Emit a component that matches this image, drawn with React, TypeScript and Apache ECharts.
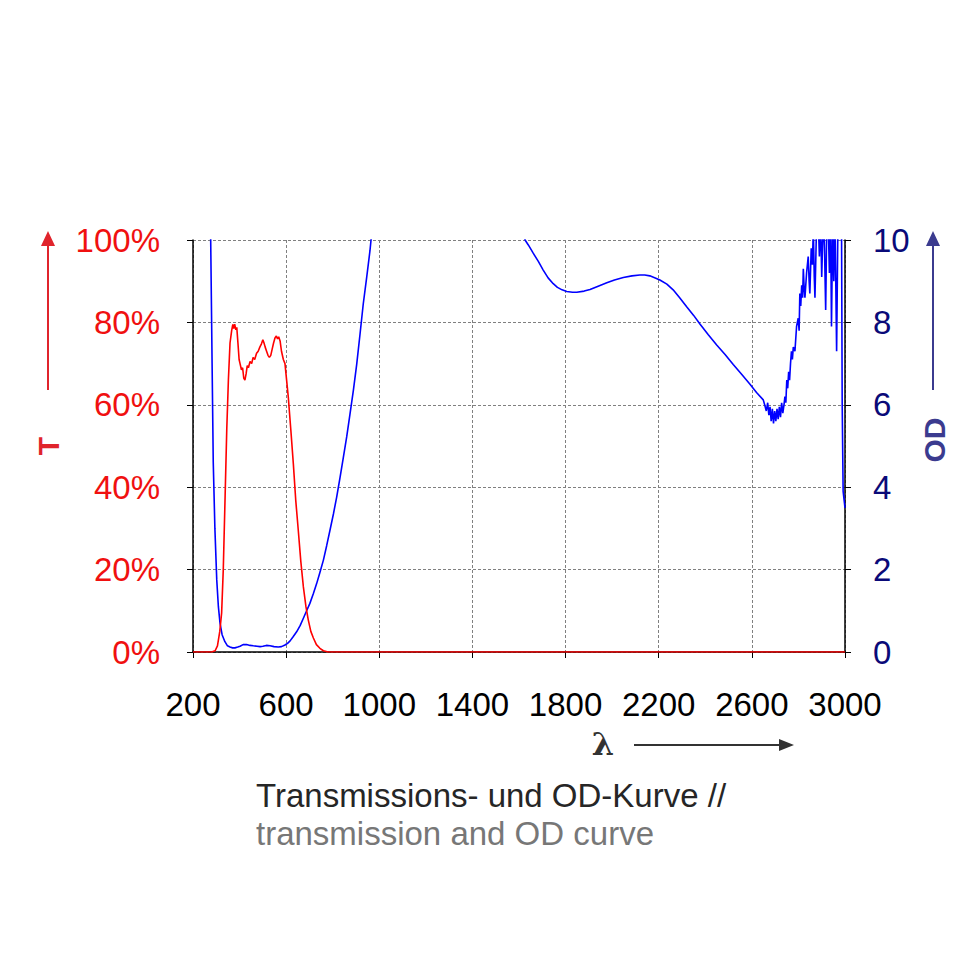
import React, { useEffect, useRef } from "react";
import * as echarts from "echarts";

// wavelength (nm) / transmission (%)
const transmission: [number, number][] = [
  [200, 0], [280, 0], [295, 0.3], [305, 1.5], [315, 5], [323, 9.5], [330, 20], [338, 38], [345, 54],
  [352, 66], [359, 75], [366, 78], [371, 79.5], [375, 78.5], [379, 79.6], [384, 78.2], [388, 78.8],
  [393, 75], [398, 71], [402, 70], [408, 68.5], [413, 69], [418, 66.5], [423, 66], [428, 67.5],
  [433, 69.5], [438, 69], [445, 70.5], [452, 70], [458, 71.5], [465, 71], [473, 72.5], [480, 73],
  [487, 74], [494, 74.8], [500, 75.8], [505, 75], [510, 74], [516, 73], [522, 72], [528, 71.5],
  [534, 72], [540, 73.5], [546, 75], [552, 76.2], [558, 76.7], [563, 76], [568, 76.5], [574, 75.5],
  [580, 73], [588, 71], [595, 70], [602, 66], [609, 62], [620, 54], [631, 45.6], [641, 37],
  [652, 29.6], [663, 22], [674, 15.8], [685, 11], [695, 7.8], [706, 5], [717, 3.4], [730, 1.8],
  [745, 0.9], [760, 0.3], [780, 0], [3000, 0],
];

// wavelength (nm) / optical density
const opticalDensity: [number, number][] = [
  [265, 12], [276, 10], [282, 7], [287, 4.6], [294, 3], [302, 1.75], [309, 1.1], [316, 0.7],
  [325, 0.42], [337, 0.25], [348, 0.15], [359, 0.12], [370, 0.1], [380, 0.1], [392, 0.12],
  [402, 0.14], [415, 0.18], [430, 0.18], [445, 0.16], [459, 0.15], [475, 0.14], [488, 0.13],
  [500, 0.14], [515, 0.16], [531, 0.15], [548, 0.13], [566, 0.12], [580, 0.13], [595, 0.17],
  [606, 0.21], [617, 0.27], [630, 0.37], [645, 0.49], [660, 0.64], [674, 0.82], [688, 1.0],
  [702, 1.18], [717, 1.42], [731, 1.66], [745, 1.93], [760, 2.23], [774, 2.58], [788, 2.95],
  [803, 3.35], [817, 3.76], [831, 4.22], [845, 4.7], [860, 5.22], [874, 5.77], [889, 6.36],
  [903, 6.98], [917, 7.7], [931, 8.44], [946, 9.1], [960, 9.74], [975, 10.6], [990, 11.5],
  [1600, 11], [1626, 10], [1640, 9.88], [1661, 9.68], [1683, 9.48], [1704, 9.27], [1725, 9.08],
  [1747, 8.94], [1765, 8.85], [1785, 8.79], [1805, 8.75], [1830, 8.73], [1848, 8.73], [1880, 8.76],
  [1905, 8.8], [1940, 8.88], [1977, 8.96], [2010, 9.03], [2048, 9.09], [2085, 9.13], [2119, 9.15],
  [2140, 9.15], [2162, 9.13], [2185, 9.08], [2205, 9.03], [2235, 8.93], [2262, 8.79], [2290, 8.6],
  [2320, 8.38], [2350, 8.17], [2377, 7.96], [2413, 7.7], [2449, 7.45], [2485, 7.22], [2520, 6.98],
  [2556, 6.74], [2592, 6.5], [2620, 6.3], [2649, 6.12], [2655, 6.0], [2662, 5.85], [2668, 6.05],
  [2673, 5.75], [2678, 5.95], [2683, 5.6], [2688, 5.9], [2693, 5.55], [2698, 5.85], [2703, 5.6],
  [2708, 5.9], [2713, 5.65], [2718, 5.95], [2723, 5.7], [2728, 6.05], [2733, 5.8], [2738, 6.0],
  [2742, 6.2], [2746, 6.05], [2750, 6.6], [2754, 6.4], [2758, 6.8], [2762, 6.6], [2766, 7.0],
  [2770, 7.3], [2774, 7.1], [2778, 7.4], [2785, 7.3], [2792, 7.9], [2799, 8.1], [2803, 7.8],
  [2806, 8.7], [2810, 8.4], [2814, 8.9], [2818, 8.6], [2821, 9.3], [2825, 8.8], [2828, 8.6],
  [2835, 9.2], [2842, 9.6], [2846, 9.0], [2849, 8.7], [2855, 9.8], [2860, 9.4], [2864, 10.3],
  [2868, 9.1], [2871, 8.6], [2878, 10.4], [2885, 10.5], [2890, 9.6], [2895, 10.5], [2900, 9.1],
  [2907, 10.6], [2912, 9.8], [2917, 8.3], [2922, 10.5], [2928, 10.4], [2933, 9.2], [2938, 10.5],
  [2942, 7.9], [2947, 10.4], [2952, 9.0], [2957, 10.6], [2964, 7.3], [2970, 10.6], [2975, 10.8],
  [2985, 10.5], [2988, 6.0], [2992, 3.9], [3000, 3.5],
];

const xTicks = { min: 200, max: 3000, interval: 400 };
const tTicks = { min: 0, max: 100, interval: 20 };
const odTicks = { min: 0, max: 10, interval: 2 };

const titleDe = "Transmissions- und OD-Kurve //";
const titleEn = "transmission and OD curve";

const FONT = '"Liberation Sans", Arial, Helvetica, sans-serif';

export default function App() {
  const ref = useRef<HTMLDivElement>(null);
  useEffect(() => {
    document.body.style.margin = "0";
    const chart = echarts.init(ref.current!, null, { renderer: "svg" });
    const dashed = { show: true, lineStyle: { color: "#808080", type: [3, 2] as any, width: 1 } };
    chart.setOption({
      animation: false,
      backgroundColor: "#ffffff",
      textStyle: { fontFamily: FONT },
      grid: { left: 193, right: 135, top: 240, bottom: 328, containLabel: false },
      xAxis: {
        type: "value",
        ...xTicks,
        axisLine: { show: true, onZero: false, lineStyle: { color: "#000", width: 1.5 } },
        axisTick: { show: true, inside: false, length: 6, lineStyle: { color: "#000", width: 1 } },
        axisLabel: {
          color: "#000", fontSize: 33, margin: 36, fontFamily: FONT,
          formatter: (v: number) => String(v),
        },
        splitLine: dashed,
      },
      yAxis: [
        {
          type: "value",
          position: "left",
          ...tTicks,
          axisLine: { show: true, lineStyle: { color: "#000", width: 1.5 } },
          axisTick: { show: true, inside: false, length: 6, lineStyle: { color: "#000", width: 1 } },
          axisLabel: { color: "#f01010", fontSize: 33, margin: 33, formatter: "{value}%", fontFamily: FONT },
          splitLine: dashed,
        },
        {
          type: "value",
          position: "right",
          ...odTicks,
          axisLine: { show: true, lineStyle: { color: "#000", width: 1.5 } },
          axisTick: { show: true, inside: false, length: 6, lineStyle: { color: "#000", width: 1 } },
          axisLabel: { color: "#0a0a78", fontSize: 33, margin: 28, fontFamily: FONT },
          splitLine: { show: false },
        },
      ],
      series: [
        {
          type: "line",
          name: "OD",
          yAxisIndex: 1,
          data: opticalDensity,
          showSymbol: false,
          symbol: "none",
          clip: true,
          lineStyle: { color: "#0000ff", width: 1.6 },
          z: 3,
        },
        {
          type: "line",
          name: "T",
          yAxisIndex: 0,
          data: transmission,
          showSymbol: false,
          symbol: "none",
          clip: true,
          lineStyle: { color: "#ff0000", width: 1.6 },
          z: 4,
        },
      ],
      graphic: [
        // T arrow (left)
        { type: "line", shape: { x1: 48, y1: 390, x2: 48, y2: 244 }, style: { stroke: "#e0242c", lineWidth: 2 } },
        { type: "polygon", shape: { points: [[48, 231], [41, 246], [55, 246]] }, style: { fill: "#e0242c" } },
        {
          type: "text", x: 48, y: 446, rotation: Math.PI / 2,
          style: { text: "T", fill: "#e0242c", font: `bold 30px ${FONT}`, align: "center", verticalAlign: "middle" },
        },
        // OD arrow (right)
        { type: "line", shape: { x1: 933, y1: 390, x2: 933, y2: 244 }, style: { stroke: "#3b3b8f", lineWidth: 2 } },
        { type: "polygon", shape: { points: [[933, 231], [926, 246], [940, 246]] }, style: { fill: "#3b3b8f" } },
        {
          type: "text", x: 934, y: 440, rotation: Math.PI / 2,
          style: { text: "OD", fill: "#3b3b8f", font: `bold 30px ${FONT}`, align: "center", verticalAlign: "middle" },
        },
        // lambda arrow
        {
          type: "text", x: 603, y: 744,
          style: { text: "λ", fill: "#333", font: `bold 32px "DejaVu Serif", "Liberation Serif", serif`, align: "center", verticalAlign: "middle" },
        },
        { type: "line", shape: { x1: 634, y1: 745, x2: 781, y2: 745 }, style: { stroke: "#333", lineWidth: 2 } },
        { type: "polygon", shape: { points: [[794, 745], [779, 739], [779, 751]] }, style: { fill: "#333" } },
        // caption
        {
          type: "text", x: 256, y: 795,
          style: { text: titleDe, fill: "#262626", font: `33px ${FONT}`, align: "left", verticalAlign: "middle" },
        },
        {
          type: "text", x: 256, y: 833,
          style: { text: titleEn, fill: "#777777", font: `33px ${FONT}`, align: "left", verticalAlign: "middle" },
        },
      ],
    });
    return () => chart.dispose();
  }, []);
  return <div ref={ref} style={{ width: 980, height: 980 }} />;
}
